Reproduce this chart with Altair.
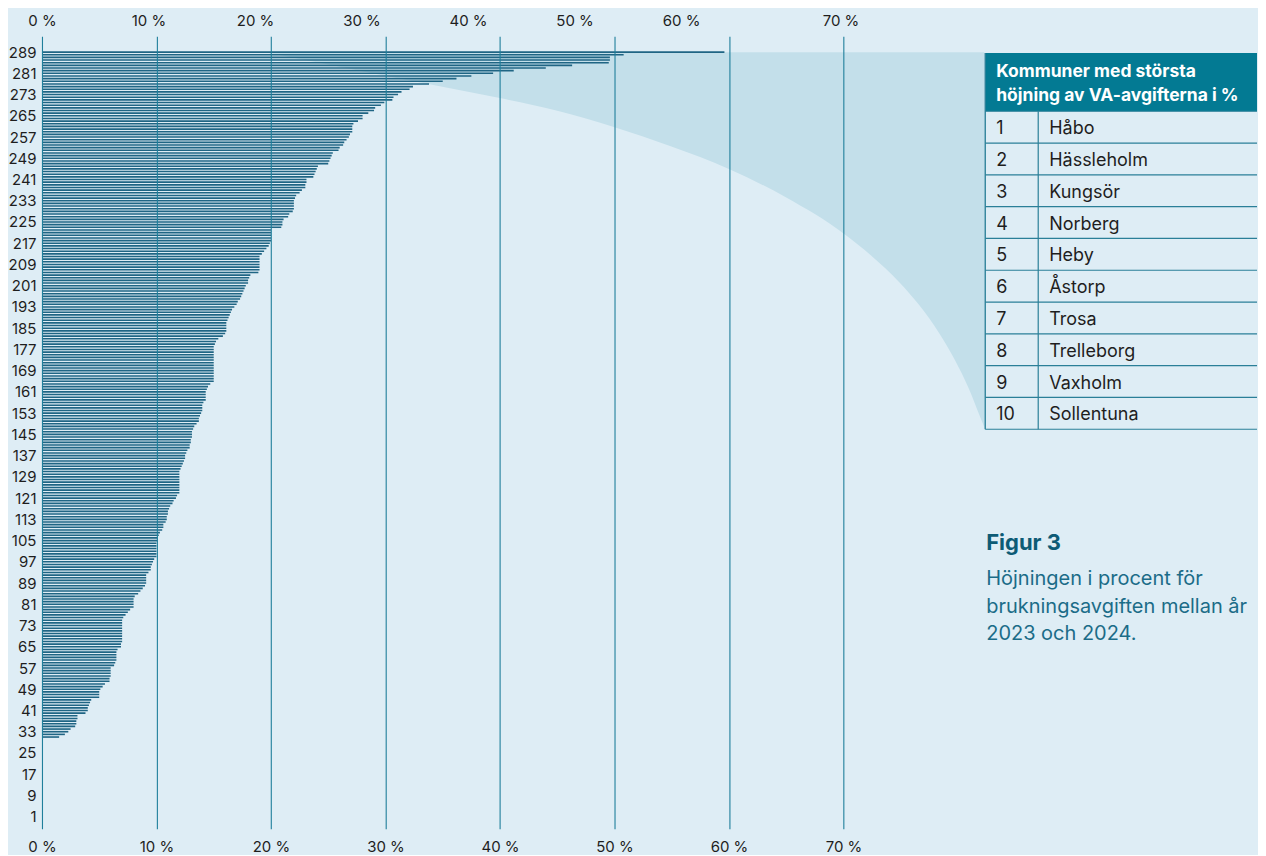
import altair as alt
import pandas as pd

# ---------------- data ----------------
# Percentage increase per municipality, sorted from the largest (row 289, top) down to row 1
values_desc = [
    59.6, 50.8, 49.6, 49.6, 49.5, 46.3, 44.0, 41.2, 39.4, 37.5,
    36.2, 35.0, 33.8, 32.4, 32.1, 31.4, 31.1, 30.7, 30.6, 29.9,
    29.6, 29.1, 29.0, 28.5, 28.0, 28.0, 27.6, 27.2, 27.1, 27.1,
    27.1, 26.9, 26.8, 26.6, 26.4, 26.3, 26.0, 25.9, 25.4, 25.3,
    25.2, 25.1, 25.0, 24.1, 24.0, 23.9, 23.8, 23.7, 23.1, 23.1,
    23.0, 23.0, 22.7, 22.5, 22.2, 22.1, 22.0, 22.0, 22.0, 22.0,
    21.9, 21.6, 21.5, 21.1, 21.0, 21.0, 20.9, 20.0, 20.0, 20.0,
    20.0, 20.0, 19.9, 19.8, 19.6, 19.4, 19.2, 19.0, 19.0, 19.0,
    19.0, 19.0, 19.0, 18.9, 18.2, 18.1, 18.0, 18.0, 17.8, 17.7,
    17.6, 17.5, 17.4, 17.3, 17.1, 17.0, 16.8, 16.6, 16.5, 16.4,
    16.3, 16.2, 16.1, 16.1, 16.1, 16.1, 16.0, 15.8, 15.4, 15.2,
    15.1, 15.0, 15.0, 15.0, 15.0, 15.0, 15.0, 15.0, 15.0, 15.0,
    15.0, 15.0, 15.0, 15.0, 15.0, 14.7, 14.5, 14.4, 14.3, 14.3,
    14.3, 14.3, 14.1, 14.0, 14.0, 14.0, 13.9, 13.8, 13.7, 13.7,
    13.5, 13.3, 13.2, 13.1, 13.1, 13.1, 13.0, 13.0, 12.9, 12.9,
    12.7, 12.6, 12.5, 12.5, 12.4, 12.3, 12.2, 12.1, 12.0, 12.0,
    12.0, 12.0, 12.0, 12.0, 12.0, 12.0, 12.0, 11.8, 11.7, 11.5,
    11.4, 11.2, 11.1, 11.0, 11.0, 10.9, 10.9, 10.8, 10.6, 10.6,
    10.5, 10.3, 10.2, 10.1, 10.1, 10.0, 10.0, 10.0, 10.0, 10.0,
    10.0, 9.8, 9.7, 9.6, 9.5, 9.5, 9.3, 9.1, 9.1, 9.1,
    9.1, 9.0, 8.8, 8.6, 8.4, 8.1, 8.0, 8.0, 8.0, 8.0,
    7.7, 7.5, 7.3, 7.1, 7.0, 7.0, 7.0, 7.0, 7.0, 7.0,
    7.0, 7.0, 7.0, 6.9, 6.9, 6.6, 6.5, 6.5, 6.5, 6.5,
    6.4, 6.3, 6.0, 6.0, 6.0, 6.0, 5.9, 5.9, 5.5, 5.3,
    5.1, 5.0, 5.0, 5.0, 4.3, 4.2, 4.1, 4.0, 4.0, 3.8,
    3.1, 3.1, 3.0, 3.0, 2.9, 2.5, 2.3, 2.0, 1.5,
    0, 0, 0, 0, 0, 0, 0, 0, 0, 0,
    0, 0, 0, 0, 0, 0, 0, 0, 0, 0,
    0, 0, 0, 0, 0, 0, 0, 0, 0, 0,
]
row_numbers = list(range(len(values_desc), 0, -1))   # 289 ... 1

y_tick_values = list(range(1, 290, 8))                # 1, 9, ..., 289
x_tick_values = [0, 10, 20, 30, 40, 50, 60, 70]

# decorative light-blue "zoom" wedge (outline, in chart units)
wedge_x = [19.46, 22.51, 27.75, 33.74, 39.99, 45.0, 50.01, 54.97, 59.99, 65.0,
           70.01, 72.43, 74.87, 76.61, 78.36, 79.67, 80.98, 81.85, 82.29]
wedge_lower = [288.9, 286.4, 282.0, 277.0, 271.7, 266.9, 260.7, 253.4, 245.0, 234.2,
               220.7, 212.3, 202.3, 193.7, 183.1, 173.5, 161.9, 152.5, 147.8]
wedge_upper = [288.9] * len(wedge_x)

table_rank = list(range(1, 11))
table_names = ["Håbo", "Hässleholm", "Kungsör", "Norberg", "Heby",
               "Åstorp", "Trosa", "Trelleborg", "Vaxholm", "Sollentuna"]
table_header = "Kommuner med största\nhöjning av VA-avgifterna i %"
caption_title = "Figur 3"
caption_text = "Höjningen i procent för\nbrukningsavgiften mellan år\n2023 och 2024."

# ---------------- styles ----------------
BG = "#deedf5"
WEDGE = "#c3dfea"
BAR = "#1f6584"
GRID = "#1f7f9b"
HEADER = "#037a93"
BORDER = "#2a7f98"
TEXT = "#1e1e1e"
TEAL_DARK = "#0d5b75"
TEAL = "#1b6c88"
FONT = "Inter"

x_scale = alt.Scale(domain=[0, 82.29], nice=False, zero=False)
y_scale = alt.Scale(domain=[-3.52, 294.94], nice=False, zero=False)

y_axis = alt.Axis(values=y_tick_values, format="d", grid=False,
                  domain=False, ticks=False, labelPadding=6)

bars_df = pd.DataFrame({"row": row_numbers, "value": values_desc})
wedge_df = pd.DataFrame({"x": wedge_x, "lo": wedge_lower, "hi": wedge_upper})

wedge = alt.Chart(wedge_df).mark_area(color=WEDGE, interpolate="monotone").encode(
    x=alt.X("x:Q", scale=x_scale, title=None,
            axis=alt.Axis(orient="bottom", values=x_tick_values,
                          labelExpr="datum.value + ' %'", labelFlush=False,
                          grid=True, gridColor=GRID, gridWidth=1.1,
                          domain=False, ticks=False, labelPadding=11,
                          zindex=1)),
    y=alt.Y("lo:Q", scale=y_scale, title=None, axis=y_axis),
    y2="hi:Q",
)

bars = alt.Chart(bars_df).mark_rule(color=BAR, strokeWidth=1.6).encode(
    x=alt.X("value:Q", scale=x_scale, title=None,
            axis=alt.Axis(orient="top", values=x_tick_values,
                          labelExpr="datum.value + ' %'", labelFlush=False,
                          grid=False, domain=False, ticks=False, labelPadding=8,
                          labelOffset=alt.ExprRef(expr="datum.value >= 70 ? -3 : -0.8 * datum.value"))),
    x2=alt.datum(0),
    y=alt.Y("row:Q", scale=y_scale, title=None, axis=y_axis),
)

left = alt.layer(wedge, bars).resolve_axis(x="independent").properties(width=943, height=793)

# ---------------- table panel ----------------
tx = alt.Scale(domain=[0, 1], nice=False, zero=False)
ty = alt.Scale(domain=[-2.356, 22.56], reverse=True, nice=False, zero=False)
COL_DIV = 0.195
HEAD_TOP = -1.83

table_df = pd.DataFrame({"rank": table_rank, "name": table_names})
one = pd.DataFrame({"k": [0]})

header_rect = alt.Chart(one).mark_rect(color=HEADER).encode(
    x=alt.X(datum=0, scale=tx, axis=None), x2=alt.datum(1),
    y=alt.Y(datum=HEAD_TOP, scale=ty, axis=None), y2=alt.datum(0),
)
row_lines = alt.Chart(table_df).mark_rule(color=BORDER, strokeWidth=1.2).encode(
    x=alt.X(datum=0, scale=tx, axis=None), x2=alt.datum(1),
    y=alt.Y("rank:Q", scale=ty, axis=None),
)
top_line = alt.Chart(one).mark_rule(color=BORDER, strokeWidth=1.2).encode(
    x=alt.X(datum=0, scale=tx, axis=None), x2=alt.datum(1),
    y=alt.Y(datum=0, scale=ty, axis=None),
)
left_border = alt.Chart(one).mark_rule(color=BORDER, strokeWidth=1.4).encode(
    x=alt.X(datum=0, scale=tx, axis=None),
    y=alt.Y(datum=HEAD_TOP, scale=ty, axis=None), y2=alt.datum(10),
)
divider = alt.Chart(one).mark_rule(color=BORDER, strokeWidth=1.2).encode(
    x=alt.X(datum=COL_DIV, scale=tx, axis=None),
    y=alt.Y(datum=0, scale=ty, axis=None), y2=alt.datum(10),
)
header_text = alt.Chart(one).mark_text(
    text=table_header, lineBreak="\n", lineHeight=24.5, align="left", baseline="middle",
    font=FONT, fontSize=17.5, fontWeight="bold", color="white", dx=11,
).encode(
    x=alt.X(datum=0, scale=tx, axis=None),
    y=alt.Y(datum=-1.235, scale=ty, axis=None),
)
rank_text = alt.Chart(table_df).transform_calculate(mid="datum.rank - 0.5").mark_text(
    align="left", baseline="middle", font=FONT, fontSize=18, color=TEXT, dx=11, dy=2,
).encode(
    x=alt.X(datum=0, scale=tx, axis=None),
    y=alt.Y("mid:Q", scale=ty, axis=None),
    text="rank:N",
)
name_text = alt.Chart(table_df).transform_calculate(mid="datum.rank - 0.5").mark_text(
    align="left", baseline="middle", font=FONT, fontSize=18, color=TEXT, dx=11, dy=2,
).encode(
    x=alt.X(datum=COL_DIV, scale=tx, axis=None),
    y=alt.Y("mid:Q", scale=ty, axis=None),
    text="name:N",
)
fig_title = alt.Chart(one).mark_text(
    text=caption_title, align="left", baseline="alphabetic",
    font=FONT, fontSize=22, fontWeight="bold", color=TEAL_DARK, dx=1,
).encode(
    x=alt.X(datum=0, scale=tx, axis=None),
    y=alt.Y(datum=13.8, scale=ty, axis=None),
)
fig_text = alt.Chart(one).mark_text(
    text=caption_text, lineBreak="\n", lineHeight=27.8, align="left", baseline="alphabetic",
    font=FONT, fontSize=20, color=TEAL, dx=1,
).encode(
    x=alt.X(datum=0, scale=tx, axis=None),
    y=alt.Y(datum=14.89, scale=ty, axis=None),
)

right = alt.layer(
    header_rect, row_lines, top_line, left_border, divider,
    header_text, rank_text, name_text, fig_title, fig_text,
).properties(width=272, height=793)

chart = alt.hconcat(left, right, spacing=0).configure(
    background=BG,
    padding={"left": 0, "top": 5, "right": 0, "bottom": 0},
).configure_view(strokeWidth=0).configure_axis(
    labelFont=FONT, labelFontSize=15, labelColor=TEXT,
)

chart.save("out.html", embed_options={"renderer": "svg", "actions": False})
